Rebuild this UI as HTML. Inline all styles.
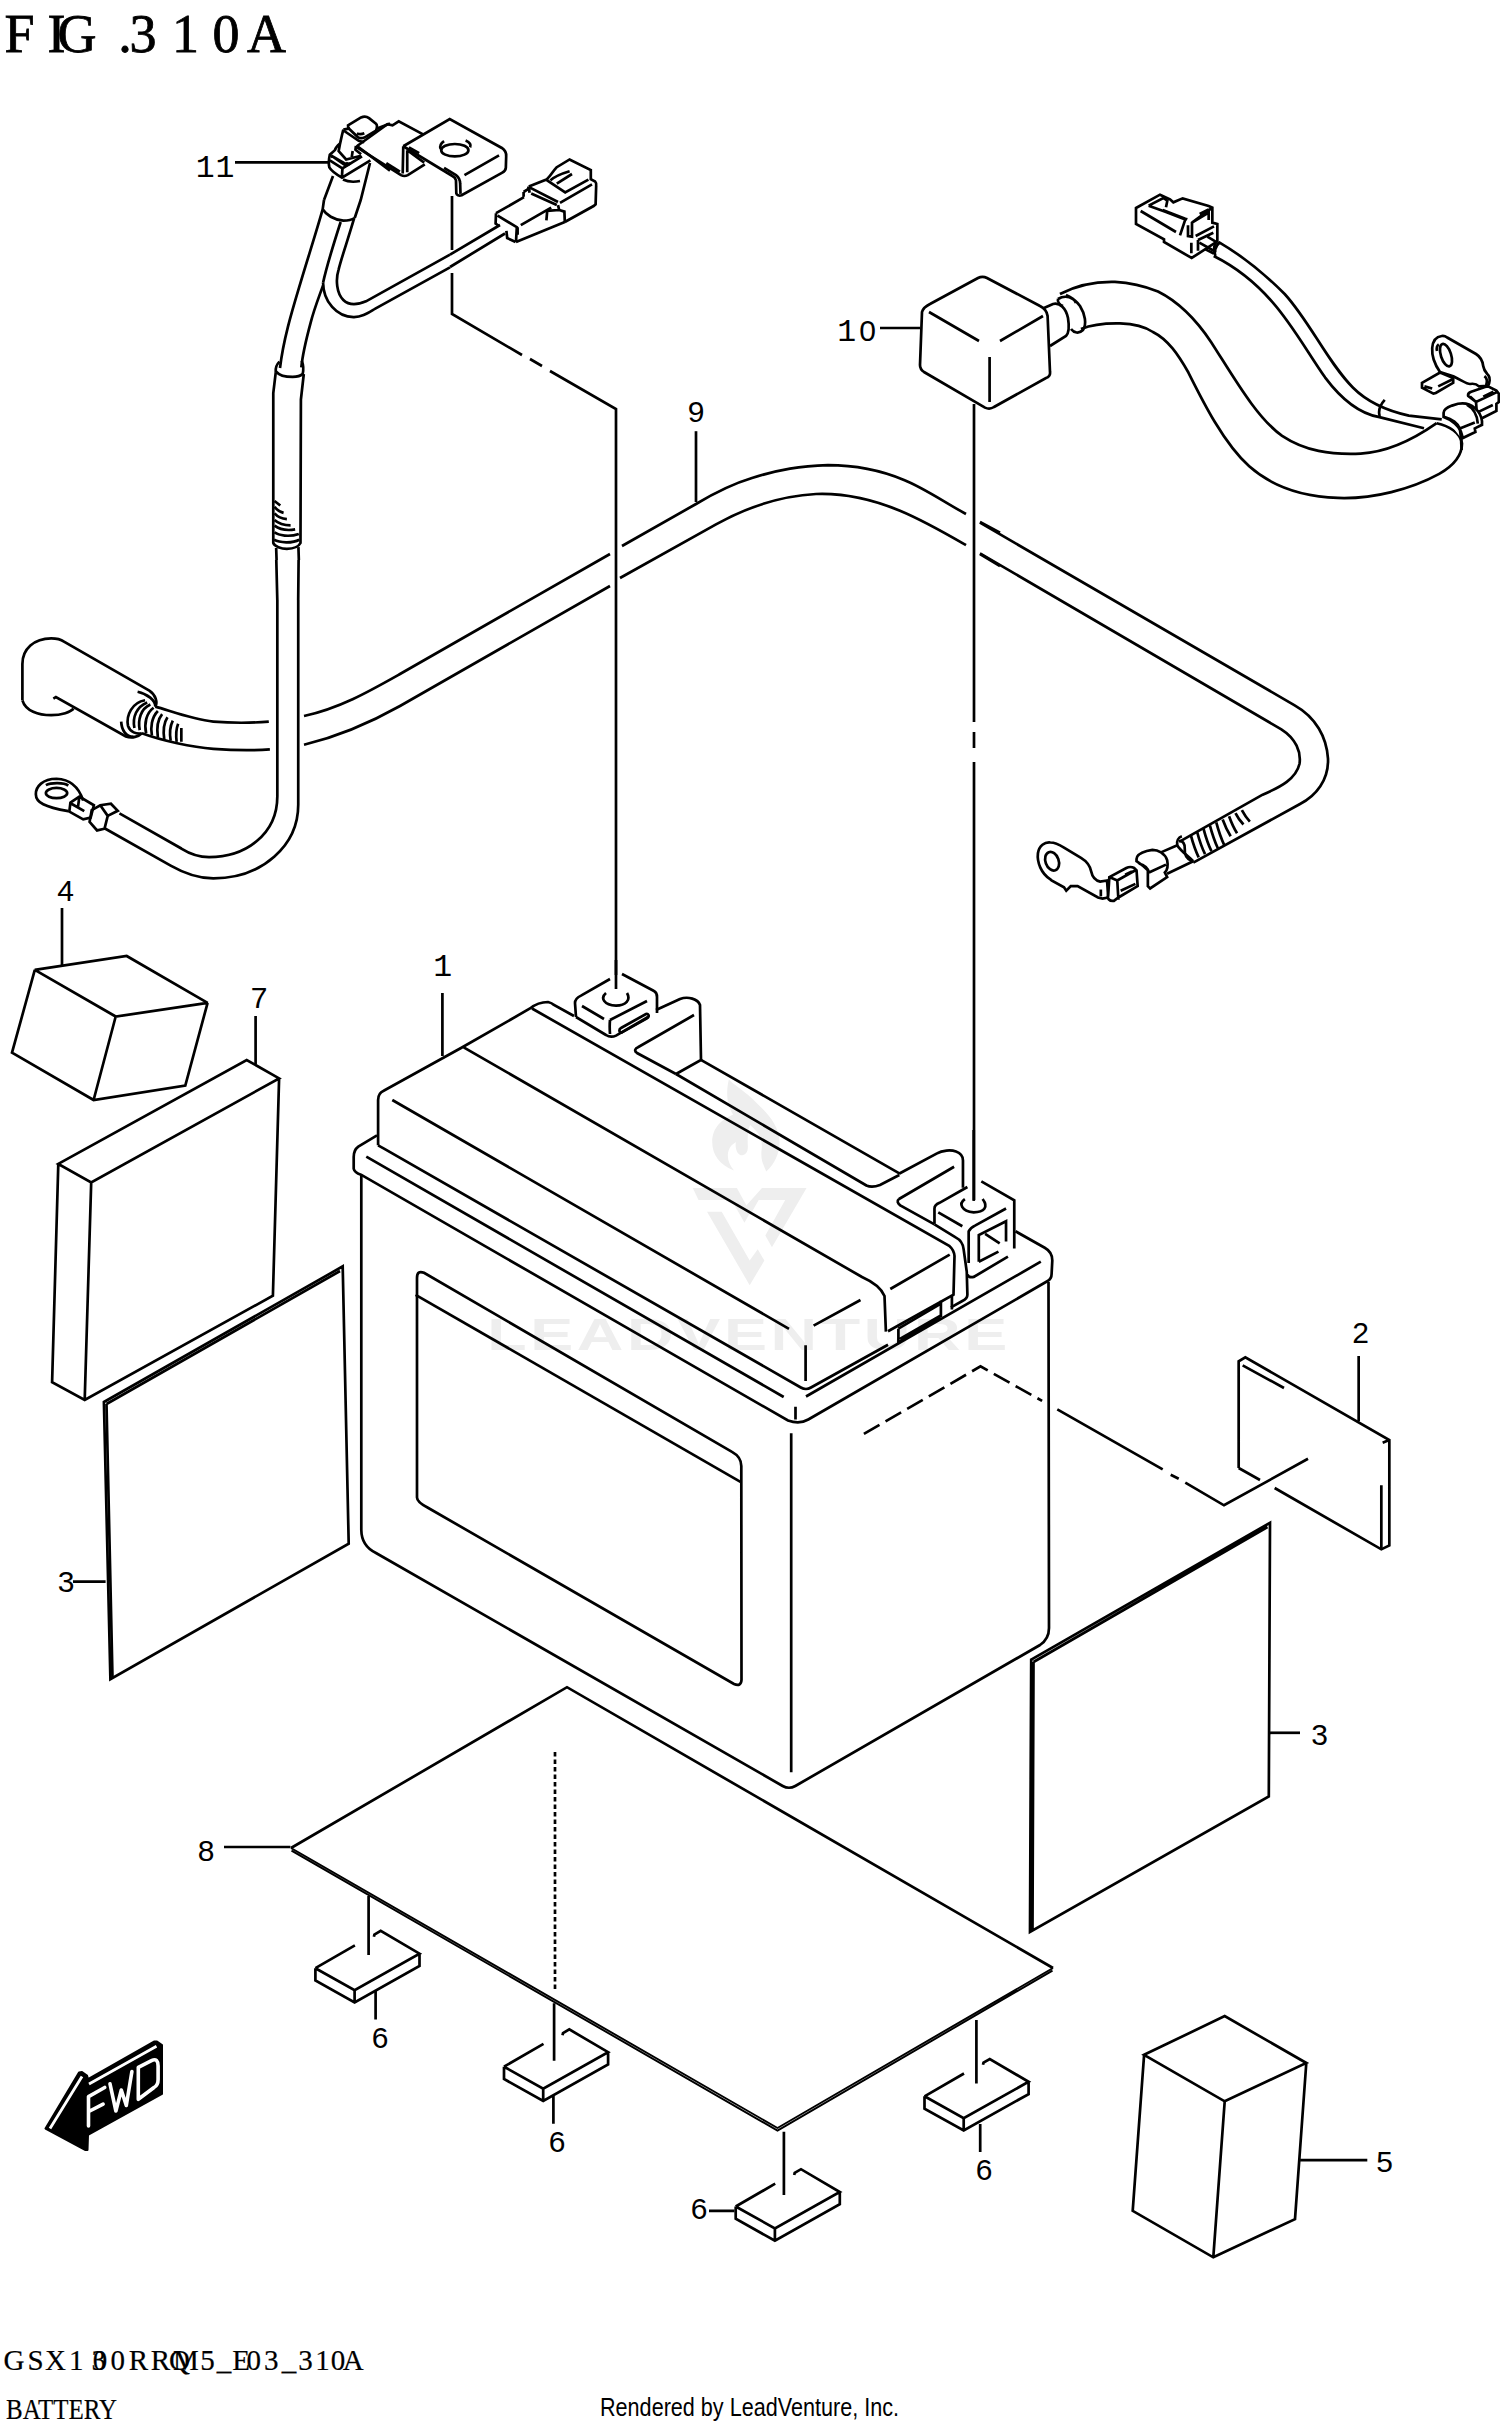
<!DOCTYPE html>
<html><head><meta charset="utf-8">
<style>
html,body{margin:0;padding:0;background:#fff;}
body{width:1500px;height:2426px;overflow:hidden;position:relative;}
svg{position:absolute;left:0;top:0;}
.l{vector-effect:non-scaling-stroke;fill:none;stroke:#000;stroke-width:2.7;stroke-linejoin:miter;stroke-miterlimit:3;stroke-linecap:butt;}
.w{vector-effect:non-scaling-stroke;fill:#fff;stroke:#000;stroke-width:2.7;stroke-linejoin:miter;stroke-miterlimit:3;stroke-linecap:butt;}
.t{font-family:"Liberation Sans",sans-serif;font-size:28px;fill:#000;}
.m{font-family:"Liberation Mono",monospace;fill:#000;}
</style></head>
<body>
<svg width="1500" height="2426" viewBox="0 0 1500 2426">
<!-- title -->
<g font-family="Liberation Serif" font-size="54" text-anchor="middle" fill="#000" stroke="#000" stroke-width="0.8">
<text x="19.5" y="52">F</text><text x="56.5" y="52">I</text><text x="77" y="52">G</text>
<text x="125" y="52">.</text><text x="143" y="52">3</text><text x="185.5" y="52">1</text><text x="226" y="52">0</text><text x="266.5" y="52">A</text>
</g>

<!-- part 4 box -->
<path class="l" d="M34.8,969.9 L126.7,956 L207.6,1002.8 L115.7,1016.5 Z M34.8,969.9 L12,1052.7 L93.6,1100 L185.3,1085.6 L207.6,1002.8 M115.7,1016.5 L93.6,1100"/>
<path class="l" d="M62,908 V965"/>


<!-- part 7 pad -->
<path class="l" d="M58.3,1163.9 L246.7,1060 L279.1,1078.4 L91.2,1182.4 Z M58.3,1163.9 L52.1,1382.3 L84.7,1400 L272.9,1295.7 L279.1,1078.4 M91.2,1182.4 L84.7,1400"/>
<path class="l" d="M255.6,1016 V1064"/>


<!-- part 3 left -->
<path class="l" d="M103.9,1402 L342.7,1266.4 L348.7,1543.6 L110.4,1679.2 Z"/>
<path class="l" d="M73,1581.6 H105.6"/>




<!-- watermark -->
<g fill="#eeeeee">
<text x="749" y="1350" font-family="Liberation Sans" font-weight="bold" font-size="44.5" text-anchor="middle" letter-spacing="2.5" transform="translate(749,0) scale(1.45,1) translate(-749,0)">LEADVENTURE</text>
<g transform="translate(680,1070) scale(0.0948)">
<path d="M135,1245 L600,1245 L740,1500 L680,1610 L545,1370 L195,1370 Z"/>
<path d="M865,1245 L1335,1245 L970,1870 L900,1745 L1110,1370 L830,1370 L740,1530 L690,1440 Z"/>
<path d="M285,1495 L440,1495 L735,2010 L820,1890 L890,2010 L735,2270 Z"/>
<path d="M515,100 C480,250 500,380 560,470 C450,520 340,600 340,760 C340,900 420,1000 570,1060 C500,980 480,880 540,800 C560,780 580,770 590,760 C580,800 590,880 640,900 C700,900 720,860 715,790 C710,700 720,620 740,580 C820,650 880,720 860,850 C850,950 880,1000 910,1070 C1000,990 1050,880 1050,760 C1050,560 880,420 760,300 C650,200 560,150 515,100 Z"/>
</g>
</g>

<!-- PART 11 -->
<g transform="translate(250,200) scale(0.133333)">
<path class="l" d="M555,0 L545,70 C500,230 420,480 370,650 C310,850 250,1050 225,1260"/>
<path class="l" d="M545,70 C570,110 630,150 700,155 C740,155 770,145 785,135"/>
<path class="l" d="M680,165 C630,320 570,520 548,620"/>
<path class="l" d="M548,640 C520,720 480,820 455,920 C420,1050 395,1150 385,1255"/>
<path class="l" d="M548,620 C550,760 650,880 780,878 C840,878 880,850 940,815 L1500,505"/>
<path class="l" d="M780,140 C740,280 690,420 665,520 C640,600 650,700 700,750 C740,790 800,790 870,760 L1500,410"/>
</g>
<g transform="translate(230,360) scale(0.08244)">
<path class="l" d="M600,20 C560,60 550,110 555,150 M870,10 C890,60 895,120 880,180 M560,140 C600,190 680,205 760,205 C820,205 860,190 880,170"/>
<path class="l" d="M555,150 L525,400 L525,2220 C540,2260 620,2290 690,2290 C760,2290 830,2270 855,2220 L860,480 L895,170"/>
<path class="l" d="M540,1710 L610,1765 M540,1780 C570,1820 610,1845 650,1855 M540,1860 C580,1905 630,1925 690,1930 M540,1940 C590,1985 650,2005 735,2005 M540,2010 C600,2055 700,2070 790,2055 M540,2090 C590,2130 720,2150 835,2110 M535,2180 C600,2220 760,2225 840,2180"/>
<path class="l" d="M560,2280 L565,2426 M830,2270 L835,2426"/>
</g>
<g transform="translate(0,600) scale(0.213333)">
<path class="l" d="M1300,0 L1300,920 C1300,1100 1150,1205 980,1205 C930,1205 890,1190 850,1165 L560,1000"/>
<path class="l" d="M1398,0 L1398,960 C1398,1150 1230,1305 1000,1305 C930,1305 870,1285 800,1245 L490,1070"/>
<path class="l" d="M390,940 C370,880 330,840 265,838 C200,838 168,875 168,910 C168,950 210,970 320,990"/>
<ellipse class="l" cx="265" cy="905" rx="50" ry="24"/>
<path class="l" d="M215,868 C240,855 300,855 320,870"/>
<path class="l" d="M330,950 L372,922 L440,962 L425,1020 L390,1028 L325,992 Z M372,922 L365,975 M335,955 L395,990"/>
<path class="l" d="M430,985 L470,962 L520,955 L552,988 L505,1012 L490,1072 L455,1080 L420,1040 Z M470,962 L505,1012"/>
<!-- cable 9 left boot -->
<path class="l" d="M105,470 L105,300 C105,230 160,180 240,180 C270,180 290,188 300,195 L700,425 C730,445 740,480 728,500"/>
<path class="l" d="M105,470 C120,520 180,540 240,540 C290,540 330,525 345,510"/>
<path class="l" d="M250,462 L262,455 L590,640 C620,650 650,640 665,625"/>
<path class="l" d="M645,430 C690,440 730,470 728,500 M568,570 C570,610 590,640 625,642"/>
<path class="l" d="M680,470 C620,480 590,540 600,590 C610,620 640,630 665,625"/>
<path class="l" d="M690,480 C640,500 620,550 630,600 M705,490 C660,510 645,560 655,610 M720,505 C685,530 675,580 685,625 M740,520 C710,550 705,600 712,635 M760,535 C735,565 735,610 740,645 M785,550 C765,580 765,620 770,655 M810,565 C795,595 795,630 800,660 M835,580 C825,605 825,640 828,665 M850,600 L850,665"/>
<path class="l" d="M728,500 C800,520 900,560 1000,570 C1100,578 1200,575 1260,570"/>
<path class="l" d="M665,625 C760,660 900,690 1000,698 C1100,705 1200,705 1265,700"/>
</g>


<!-- 11 top: terminal head -->
<g transform="translate(320,110) scale(0.046667)">
<path class="l" d="M600,330 L880,160 C930,135 1000,135 1050,175 L1200,295 C1225,320 1225,380 1200,440 L950,590 C900,610 840,600 810,580 L640,420 C610,395 595,360 600,330 Z"/>
<path class="l" d="M520,450 L830,660 L950,690 M500,420 L640,395 M790,500 C830,520 900,520 950,500"/>
<path class="l" d="M500,420 L470,540 L430,720 L400,880 L560,1060 L880,980 M770,770 L760,850 L880,950 M700,880 L680,1010"/>
<path class="l" d="M430,720 C380,760 330,820 320,860 L210,960 C190,1050 180,1150 200,1230 C240,1300 350,1380 470,1450 L1080,1080 M480,1260 L470,1440"/>
<path class="l" d="M230,1010 L260,990 L520,1170 C560,1190 610,1180 640,1150 L640,1120 M280,1000 L520,1140 C560,1160 590,1150 600,1120"/>
<path class="l" d="M210,1080 L480,1250 L900,995 M1210,400 L1500,290 M780,760 L1500,1300"/>
</g>
<!-- 11 top: bracket -->
<g transform="translate(350,110) scale(0.113333)">
<path class="l" d="M60,320 L330,125 L375,135 L430,100 L645,215"/>
<path class="l" d="M55,325 L450,575 C470,585 490,585 510,575 L660,480"/>
<path class="l" d="M470,320 L465,560 M505,355 L505,550 M505,355 L655,465"/>
<path class="l" d="M470,320 L880,80 L1340,335 C1370,355 1380,380 1378,410 L1375,510 C1373,530 1360,545 1340,555 L985,752 C960,760 940,750 938,735 L935,620 C930,600 920,590 900,580 L470,320"/>
<path class="l" d="M520,330 L610,380 M830,510 L935,575 C960,595 972,615 972,650 L975,740 M1010,575 L1315,400"/>
<ellipse class="l" cx="925" cy="355" rx="120" ry="55"/>
<path class="l" d="M830,275 C800,295 790,320 800,345 M1020,270 C1060,285 1070,310 1060,330"/>
<path class="l" d="M320,470 L440,545"/>
</g>
<!-- 11 top: connector -->
<g transform="translate(480,150) scale(0.08)">
<path class="l" d="M610,455 L830,370 C870,340 900,280 960,215 L1120,118 L1385,250 L1385,365 L1440,395 C1455,410 1455,430 1452,450 L1445,680 L1420,700 L1060,900"/>
<path class="l" d="M830,372 L1065,530 L1355,370 M880,380 C930,330 1000,300 1120,265 M960,420 L1150,300"/>
<path class="l" d="M610,460 L620,535 M625,470 L975,650 M640,545 L960,688 M1000,660 L1400,430"/>
<path class="l" d="M975,690 L990,750 L1055,770 L1060,900 M990,750 L840,760 L830,880"/>
<path class="l" d="M545,525 L600,490 L610,460 M545,525 L545,585 M200,790 L550,590 M200,790 L195,920 L240,950 M220,820 L460,965 L450,1150 M470,965 L470,1060 M450,1150 L1060,900 M510,940 L890,720"/>
<path class="l" d="M330,1010 L340,1100 L445,1150"/>
</g>
<g transform="translate(0,600) scale(0.213333)">
</g>
<path class="l" d="M276.3,560 L277.3,600 M298.6,560 L298.2,600"/>
<path class="l" d="M235,162.3 H329"/>



<!-- 11 boot upper + U cable ext -->
<path class="l" d="M333,176 L324,200 M370,163 L360.7,200 L354.7,218 M343,179.5 C348,182 355,182 360,181"/>
<path class="l" d="M450,254.7 L500,225 M450,267 L505,233.5"/>
<!-- leader 11 bracket -> battery -->
<path class="l" d="M452,196 V250 M452,273 V314 L522,355 M530,359 L542,366 M550,371 L616,409 V975"/>
<!-- cable 9 middle -->
<g transform="translate(400,280) scale(0.4)">
<path class="l" d="M-240,1090 C-150,1070 -80,1030 0,985 L525,685"/>
<path class="l" d="M-240,1162 C-150,1140 -80,1110 0,1065 L525,765"/>
<path class="l" d="M555,665 L740,560 C790,530 830,510 880,495 C950,473 1000,465 1070,463 C1130,463 1200,475 1260,500 C1310,520 1360,555 1415,585"/>
<path class="l" d="M550,745 L790,611 C860,572 950,540 1040,535 C1120,532 1190,552 1250,577 C1310,602 1370,637 1415,663"/>
<path class="l" d="M1450,605 L1500,632 M1450,685 L1500,715"/>
<path class="l" d="M740,378 V555"/>
</g>

<!-- cable 9 right -->
<g transform="translate(980,500) scale(0.266667)">
<path class="l" d="M0,85 L1180,770 C1260,815 1300,890 1305,970 C1308,1050 1260,1110 1200,1140 L800,1360"/>
<path class="l" d="M0,200 L1130,860 C1185,895 1205,945 1198,990 C1185,1045 1130,1075 1060,1105 L750,1280"/>
<path class="l" d="M745,1280 C760,1275 770,1290 768,1310 C766,1330 775,1345 795,1355 M790,1255 C798,1285 808,1315 820,1340 M814,1244 C822,1274 832,1304 844,1328 M838,1232 C846,1262 856,1292 868,1317 M862,1220 C870,1250 880,1280 892,1306 M886,1209 C894,1239 904,1269 916,1294 M910,1198 C918,1220 928,1242 940,1261 M934,1186 C942,1208 952,1231 964,1250 M958,1174 C966,1190 976,1204 988,1217 M982,1163 C990,1178 1000,1193 1012,1206"/>





</g>
<!-- part 10 cap -->
<g transform="translate(900,180) scale(0.2)">
<path class="l" d="M110,660 C115,640 130,630 150,620 L390,490 C405,482 420,482 435,490 L700,630 C720,640 735,655 738,680 L750,960 C752,975 745,985 730,990 L470,1135 C455,1145 440,1145 425,1138 L120,960 C105,950 100,940 100,925 L110,660 Z"/>
<path class="l" d="M145,660 L395,805 M500,805 L715,680 M448,885 L448,1110"/>
<path class="l" d="M720,640 L765,620 C800,612 830,640 840,690 C848,740 840,770 830,780 L750,830"/>
<path class="l" d="M790,595 C830,570 870,590 900,630 C925,670 935,720 915,750 C895,770 870,765 855,745 M790,595 C785,610 800,625 815,630 M830,575 C855,585 875,600 880,615"/>
<path class="l" d="M-100,740 L100,740"/>
</g>

<path class="l" d="M974,404 V722 M974,732 V748 M974,762 V1200"/>
<!-- part 10 cables right -->
<g transform="translate(1120,180) scale(0.253333)">
<path class="l" d="M-237,450 C-180,420 -100,400 -20,402 C40,405 100,420 150,440 C230,480 300,550 360,640 C450,780 540,940 640,1010 C730,1070 830,1085 950,1080 C1050,1075 1150,1030 1250,960"/>
<path class="l" d="M-154,588 C-110,570 -50,565 0,566 C60,568 100,580 130,600 C190,630 230,690 270,760 C330,880 410,1040 510,1130 C600,1210 720,1250 860,1255 C1000,1260 1150,1220 1260,1160 C1330,1120 1350,1080 1350,1040 C1345,1000 1300,970 1250,960"/>
<path class="l" d="M390,245 C450,280 550,350 650,450 C750,560 820,720 920,820 C980,880 1050,910 1140,930 L1270,945"/>
<path class="l" d="M370,300 C450,340 530,400 600,480 C680,570 740,680 810,780 C870,860 940,920 1020,935 L1200,980"/>
<path class="l" d="M1045,868 C1025,890 1020,915 1025,932 M395,245 C375,260 370,290 378,300 M385,240 L345,225 M370,290 L330,270"/>






</g>


<!-- BATTERY -->
<g id="battery">
<!-- body -->
<path class="l" d="M361.3,1174.7 L361.3,1530 Q361.5,1546 376,1553 L782.7,1786 Q789,1789.5 795.3,1786 L1040,1645 Q1049,1639 1049,1628 L1048.5,1282"/>
<path class="l" d="M791.2,1433.3 L791.2,1772.3"/>
<!-- lip -->
<path class="l" d="M377,1135.3 L358.3,1146.7 Q353.7,1150 353.7,1157 L353.7,1168.7 Q354.5,1172.5 361,1174.7 L788,1420.5 Q799.7,1424.5 808.3,1419.5 L1047.2,1281.3 Q1051.6,1279 1051.6,1274 L1052.3,1260.5 Q1052.3,1252 1044.7,1247.8 L1015.5,1231.3"/>
<path class="l" d="M366.3,1156.7 L783.7,1397 M806,1396.5 L1040.8,1261.7 M795.5,1406.7 L795.5,1419.5"/>
<!-- lid -->
<path class="l" d="M378.1,1145.3 L378.1,1100 Q378.1,1093 383.7,1090.7 L461,1048 L530,1008.5 Q538,1002 548,1002 Q552,1003 554,1005 L574,1016"/>
<path class="l" d="M463.7,1047.3 L862,1277 Q880,1285 884.5,1296 L885.9,1331.6"/>
<path class="l" d="M532,1008.5 L949.6,1246.2 Q954,1250 954.5,1256 L953.5,1294.6 L888,1331.2"/>
<path class="l" d="M392.3,1100 L789,1328.8 M813.6,1325.6 L860.5,1300 M890.3,1289 L949.7,1254.6"/>
<path class="l" d="M378.1,1145.3 L384,1148.7 L800.8,1387.5 Q806,1390.5 811,1387.5 L888,1344.8 M805.6,1345.3 L805.6,1381"/>
<path class="l" d="M898.4,1328.7 L898.4,1342.6 L940.9,1317.6 M898.4,1328.7 L940.9,1303.7 M940.9,1300.8 L940.9,1317 M951.9,1295 L951.9,1309.6 M899.9,1339 L940.9,1315.5"/>
<!-- channel lines from left tab -->
<path class="l" d="M700.9,1059.8 L899.3,1173.3 M676,1074 L866.4,1185.5 Q872,1188 880,1185 L899.3,1175"/>
<!-- panel -->
<path class="l" d="M417,1497.5 L417,1278 Q417,1270 424,1272.8 L732,1451.9 Q741.3,1457 741.3,1466 L741.5,1680 Q741,1687 734,1684 L427.5,1507.5 Q417,1502 417,1497.5"/>
<path class="l" d="M415.6,1294.8 L740.9,1482.2"/>
</g>
<!-- battery left terminal + tab (zoom 440,960 s5) -->
<g transform="translate(440,960) scale(0.2)">
<path class="w" d="M680,285 L675,215 C675,195 690,185 705,178 L850,95 M910,70 L1070,155 C1080,160 1085,175 1085,185 L1085,265 M680,285 L830,375 C845,385 865,385 880,378 L1040,285"/>
<path class="l" d="M710,230 L820,295 M850,300 L1035,205 M850,300 C848,320 848,345 850,370 M830,165 C800,190 820,225 880,228 C930,228 955,200 935,165"/>
<path class="l" d="M905,340 L1030,270 C1045,265 1048,285 1035,292 L910,362 C895,368 893,345 905,340 Z"/>
<path class="l" d="M1080,250 L1200,195 C1240,180 1290,195 1300,225 L1305,500 L1180,570 M1180,570 L985,465 C970,455 975,442 990,436 L1270,275"/>
<path class="l" d="M880,0 V145 M12,165 V480"/>
</g>
<!-- battery right terminal + tab (zoom 880,1130 s7.895) -->
<g transform="translate(880,1130) scale(0.126667)">
<path class="l" d="M150,345 L450,185 C490,160 560,155 600,170 C640,185 655,210 655,240 L655,455"/>
<path class="l" d="M150,545 L585,290 M150,545 C130,560 140,580 160,595 L430,745"/>
<path class="l" d="M430,740 L430,620 C430,600 445,585 470,575 L690,450 M800,405 L1060,555 L1060,935"/>
<path class="l" d="M460,650 L650,760 M700,1050 L700,800 C710,780 730,765 750,755 L995,620 M690,1140 C700,1165 720,1165 740,1160 L1010,1000"/>
<path class="l" d="M670,545 C620,580 640,640 740,650 C820,650 860,610 810,545"/>
<path class="l" d="M780,1040 L780,830 L995,720 L995,880 M780,1040 L935,960 M830,820 L945,895"/>
<path class="l" d="M430,745 L600,850 C640,870 655,900 660,940 L685,1120 L690,1300 C690,1320 670,1340 650,1350 L560,1400"/>
<path class="l" d="M740,0 V560"/>
</g>



<!-- dashed line battery -> part 2 -->
<path class="l" stroke-dasharray="18 7" d="M863.9,1433.9 L980.5,1366.4 L1042.1,1400.9"/>
<path class="l" d="M1057.3,1409.3 L1162.7,1469.3 M1170.7,1474.7 L1178.7,1478.7 M1185.3,1482.7 L1224,1505.3 L1308,1458.7"/>
<!-- part 2 -->
<g transform="translate(1040,1300) scale(0.266667)">
<path class="l" d="M745,630 L745,230 L770,215 L1310,525 L1310,920 L1280,935 L880,705 M825,675 L745,630"/>
<path class="l" d="M760,245 L915,330 M1280,695 L1280,930 M1285,535 L1305,527"/>
<path class="l" d="M1195,210 L1195,455"/>
</g>
<!-- part 3 right -->
<path class="l" d="M1031.2,1659.6 L1270,1522.8 L1268.8,1796.4 L1030,1932 Z M1033.5,1662 L1267.5,1527 M1033.5,1662 L1032.5,1930"/>
<path class="l" d="M1270,1732.8 H1300"/>
<!-- part 3 left double lines -->
<path class="l" d="M106.5,1404 L340,1271 M106.5,1404 L112.5,1678"/>
<!-- part 8 sheet -->
<path class="l" d="M291,1848 L567,1687.2 L1053,1968"/>
<path class="l" style="stroke-width:1.9" d="M291,1848 L777.5,2128 L1053,1968 M291.5,1850.6 L777.5,2130.6 L1052.5,1970.6"/>
<path class="l" stroke-dasharray="4.5 3" d="M555,1752 V1992"/>
<path class="l" d="M224,1847 H290.4"/>
<!-- part 5 box -->
<path class="l" d="M1144.1,2054.8 L1224.7,2016.1 L1306.3,2063 L1224.7,2101.3 Z M1144.1,2054.8 L1132.7,2210.8 L1213.3,2257.3 L1295,2219.1 L1306.3,2063 M1224.7,2101.3 L1213.3,2257.3"/>
<path class="l" d="M1300.1,2160.2 H1367.3"/>
<!-- FWD arrow -->
<g transform="translate(30,2020) scale(0.1)">
<path fill="#000" stroke="#000" stroke-width="20" stroke-linejoin="round" d="M155,1085 L490,525 L520,520 L570,555 L580,590 L1240,215 L1270,215 L1320,250 L1320,740 L580,1150 L575,1300 L555,1300 Z"/>
<path fill="none" stroke="#fff" stroke-width="28" d="M200,1085 L520,565 M590,640 L1265,262"/>

</g>


<path fill="none" stroke="#fff" stroke-width="3.6" stroke-linecap="round" stroke-linejoin="round" d="M88.5,2126 L88.5,2096.6 L104.7,2087.5 M89.8,2111 L103.1,2104.1 M110,2083.8 L115.9,2111 L121.3,2090 L126.3,2105.5 L131.9,2071.5 M138.3,2099.3 L138.3,2067.3 L152,2060.3 C156,2058.5 158.1,2061 158.1,2066 L158.1,2079.5 C158.1,2083 157,2085.9 154,2087.5 Z"/>

<!-- part 10 connector (zoom 1130,190 s15) -->
<g transform="translate(1130,190) scale(0.066667)">
<path class="w" d="M90,270 L450,70 L600,140 L650,185 L790,125 L1180,240 L1235,265 L1235,490 L1310,510 L1310,770 L925,1020 L510,780 L510,740 L90,510 Z"/>
<path class="l" d="M160,315 L690,630 M280,235 L500,120 L560,160 L540,260 M280,235 L540,330 L820,440 M490,300 L830,430 L860,440 M830,440 L750,680"/>
<path class="l" d="M870,530 L870,690 L930,700 L930,490 L1180,340 L1180,450 M1045,360 L1180,290 M985,690 L1260,545 M1020,750 L1250,640 M1020,750 L1020,910 M920,790 L920,950 M930,490 L1235,265"/>
<path class="l" d="M1040,790 L1290,930 M1160,700 L1310,790 M1300,780 C1260,810 1250,880 1280,940"/>
</g>
<!-- part 10 right ring terminal (zoom 1410,330 s16.67) -->
<g transform="translate(1410,330) scale(0.06)">
<path class="w" d="M500,700 C430,600 360,450 370,300 C380,180 440,110 530,100 C570,95 600,110 620,125 L1100,400 C1180,450 1210,520 1220,600 C1230,680 1280,720 1310,760 C1340,800 1330,880 1300,930 L1150,940 C1100,890 1050,890 1000,900 C950,900 900,860 720,770 Z"/>
<ellipse class="l" cx="600" cy="420" rx="85" ry="195" transform="rotate(-18 600 420)"/>
<path class="l" d="M450,350 C440,300 450,260 480,240 M1240,770 C1280,800 1290,860 1270,920"/>
<path class="w" d="M200,880 L500,710 L720,800 L720,880 L430,1050 L390,1060 L200,960 Z M240,940 L370,975 M470,940 L710,820"/>
<path class="w" d="M970,1100 C960,1060 990,1040 1020,1030 L1250,950 L1300,940 L1440,1010 L1480,1060 L1480,1200 L1440,1230 L1440,1350 L1200,1470 L1180,1460 L1110,1330 L1100,1200 Z M1000,1110 L1100,1200 L1440,1040 M1220,1110 L1390,1030 M1150,1360 L1380,1250"/>
<path class="w" d="M560,1380 C560,1320 620,1290 700,1260 L800,1230 C900,1210 1000,1230 1080,1300 C1150,1360 1190,1430 1200,1520 L1200,1580 L1080,1640 L1090,1700 L880,1800 L850,1700 C820,1600 700,1500 560,1450 Z M580,1450 C700,1480 800,1560 830,1640 L850,1800 M830,1640 L1080,1540 M940,1240 C1050,1300 1120,1400 1130,1560"/>
<path class="l" d="M850,1800 L860,2000"/>
</g>
<!-- part 9 right ring terminal (zoom 1030,800 s8.824) -->
<g transform="translate(1030,800) scale(0.113333)">
<path class="w" d="M180,700 C100,650 60,550 70,470 C80,400 130,370 180,375 C220,375 260,395 300,420 L450,510 C500,540 530,580 540,630 C550,680 580,710 620,720 L680,710 L690,860 L640,870 L600,860 L420,760 L360,760 L320,800 L300,770 L190,710 Z"/>
<ellipse class="l" cx="195" cy="540" rx="58" ry="85" transform="rotate(-20 195 540)"/>
<path class="l" d="M625,790 L625,850"/>
<path class="w" d="M700,680 L850,600 C870,590 900,590 920,600 L940,620 L950,760 L780,860 L740,890 C700,895 680,870 690,840 Z M700,680 L770,710 L930,620 M770,710 L780,880 M800,800 L930,740 M840,660 L900,630"/>
<path class="w" d="M940,520 C940,490 980,465 1030,450 L1080,440 C1130,440 1190,470 1210,530 C1220,580 1210,620 1190,640 L1210,680 L1060,780 L1040,760 L1040,620 C1010,590 970,560 940,540 Z M960,560 C1000,570 1040,600 1050,640 M1050,640 L1200,570"/>
<path class="l" d="M1160,460 L1300,400 M1210,650 L1440,540 M1300,400 C1290,360 1310,330 1340,320 M1300,400 C1320,440 1400,500 1440,540"/>
</g>
<!-- labels -->
<g font-family="Liberation Sans" font-size="30" text-anchor="middle" fill="#000">
<text x="380" y="2048">6</text>
<text x="557" y="2151.5">6</text>
<text x="984" y="2180">6</text>
<text x="699" y="2219">6</text>
<text x="1384.5" y="2171.5">5</text>
<text x="206" y="1861">8</text>
<text x="1319.5" y="1745">3</text>
<text x="66" y="1592">3</text>
<text x="1360.5" y="1343">2</text>
<text x="65.5" y="900.5">4</text>
<text x="259" y="1007.5">7</text>
<text x="696" y="422">9</text>
<text x="867.5" y="341.2">0</text>
</g>
<g font-family="Liberation Mono" font-size="31.5" text-anchor="middle" fill="#000">
<text x="205.2" y="176.8">1</text>
<text x="225" y="176.8">1</text>
<text x="846.8" y="341.2">1</text>
<text x="442.7" y="976">1</text>
</g>
<!-- pads 6 -->
<path class="l" d="M368.6,1895.9 V1955.1 M375.6,1990.6 V2019.5 M554.1,2003.2 V2060.8 M553.4,2096 V2123.7 M976.4,2020 V2083.6 M980.2,2124 V2152 M783.9,2131.7 V2195 M709,2210.8 H734.5"/>
<g transform="translate(315.4,1968.2)"><path class="l" d="M0,0 L39.2,21.9 L104.1,-14.5 L65.3,-37.3 L59,-33.6 L58.5,-31.5 M0,0 L39.5,-22.8 M0,0 V12.3 L39.2,34.2 L104.1,-2.2 V-14.5 M39.2,21.9 V34.2"/></g>
<g transform="translate(504,2066.7)"><path class="l" d="M0,0 L39.2,21.9 L104.1,-14.5 L65.3,-37.3 L59,-33.6 L58.5,-31.5 M0,0 L39.5,-22.8 M0,0 V12.3 L39.2,34.2 L104.1,-2.2 V-14.5 M39.2,21.9 V34.2"/></g>
<g transform="translate(924.5,2096.3)"><path class="l" d="M0,0 L39.2,21.9 L104.1,-14.5 L65.3,-37.3 L59,-33.6 L58.5,-31.5 M0,0 L39.5,-22.8 M0,0 V12.3 L39.2,34.2 L104.1,-2.2 V-14.5 M39.2,21.9 V34.2"/></g>
<g transform="translate(735.7,2206.5)"><path class="l" d="M0,0 L39.2,21.9 L104.1,-14.5 L65.3,-37.3 L59,-33.6 L58.5,-31.5 M0,0 L39.5,-22.8 M0,0 V12.3 L39.2,34.2 L104.1,-2.2 V-14.5 M39.2,21.9 V34.2"/></g>

<!-- bottom text -->
<g font-family="Liberation Serif" font-size="29" text-anchor="middle" fill="#000" stroke="#000" stroke-width="0.2">
<text x="13.9" y="2370.4">G</text><text x="35.5" y="2370.4">S</text><text x="55.4" y="2370.4">X</text><text x="76.3" y="2370.4">1</text><text x="98.8" y="2370.4">3</text><text x="100" y="2370.4">0</text><text x="117.7" y="2370.4">0</text><text x="138.5" y="2370.4">R</text><text x="160.3" y="2370.4">R</text><text x="179.6" y="2370.4">Q</text><text x="186" y="2370.4">M</text><text x="207.6" y="2370.4">5</text><text x="224" y="2370.4">_</text><text x="241" y="2370.4">E</text><text x="253.8" y="2370.4">0</text><text x="271.3" y="2370.4">3</text><text x="288.9" y="2370.4">_</text><text x="305.4" y="2370.4">3</text><text x="322.5" y="2370.4">1</text><text x="338" y="2370.4">0</text><text x="353.3" y="2370.4">A</text>
<text x="6" y="2419" text-anchor="start" textLength="111" lengthAdjust="spacingAndGlyphs" font-size="30">BATTERY</text>
</g>
<text x="600" y="2416" font-family="Liberation Sans" font-size="25.5" textLength="299" lengthAdjust="spacingAndGlyphs" fill="#000">Rendered by LeadVenture, Inc.</text>
</svg>
</body></html>
